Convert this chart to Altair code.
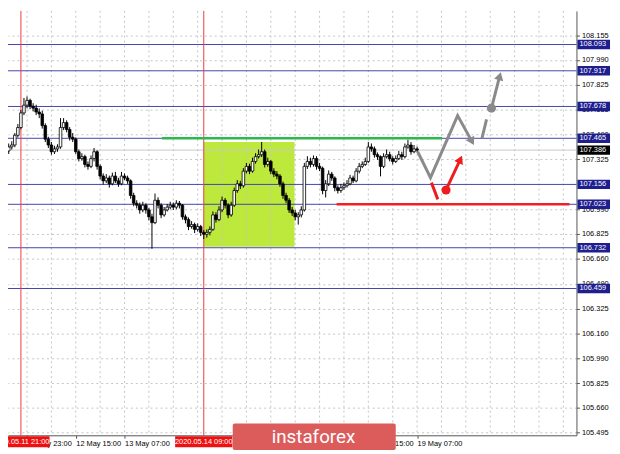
import json
import altair as alt
import pandas as pd

# ---------------- data ----------------
# hourly candles; bar index k (k=6 -> 11 May 23:00, k=134 -> 19 May 07:00)
first_open = 107.380
closes = [107.407, 107.420, 107.485, 107.537, 107.635, 107.687, 107.719, 107.680, 107.667, 107.641,
          107.628, 107.550, 107.459, 107.420, 107.375, 107.394, 107.407, 107.537, 107.570, 107.524,
          107.472, 107.459, 107.375, 107.329, 107.342, 107.290, 107.277, 107.329, 107.375, 107.277,
          107.212, 107.180, 107.199, 107.160, 107.212, 107.180, 107.160, 107.212, 107.199, 107.180,
          107.082, 107.030, 107.017, 106.985, 107.017, 106.985, 106.939, 106.900, 107.050, 107.017,
          106.952, 106.985, 107.004, 107.017, 107.004, 107.030, 107.017, 106.939, 106.920, 106.874,
          106.887, 106.855, 106.874, 106.835, 106.822, 106.835, 106.855, 106.952, 106.920, 106.985,
          107.050, 107.017, 106.952, 107.017, 107.115, 107.160, 107.147, 107.245, 107.277, 107.245,
          107.310, 107.342, 107.355, 107.375, 107.290, 107.310, 107.245, 107.225, 107.212, 107.160,
          107.082, 107.050, 106.985, 106.965, 106.939, 106.952, 106.985, 107.277, 107.310, 107.290,
          107.329, 107.277, 107.264, 107.115, 107.160, 107.225, 107.199, 107.134, 107.115, 107.134,
          107.147, 107.160, 107.199, 107.180, 107.245, 107.277, 107.290, 107.310, 107.407, 107.394,
          107.355, 107.342, 107.277, 107.342, 107.355, 107.329, 107.310, 107.329, 107.355, 107.342,
          107.407, 107.420, 107.375, 107.394, 107.386]
highs = [107.430, 107.445, 107.500, 107.560, 107.655, 107.735, 107.745, 107.730, 107.700, 107.690,
         107.665, 107.650, 107.565, 107.475, 107.440, 107.415, 107.425, 107.600, 107.600, 107.585,
         107.540, 107.500, 107.470, 107.390, 107.365, 107.355, 107.310, 107.350, 107.400, 107.385,
         107.290, 107.230, 107.225, 107.215, 107.235, 107.240, 107.200, 107.240, 107.230, 107.215,
         107.190, 107.100, 107.050, 107.035, 107.040, 107.030, 107.000, 106.960, 107.095, 107.070,
         107.030, 107.005, 107.025, 107.040, 107.035, 107.050, 107.045, 107.025, 106.955, 106.935,
         106.910, 106.900, 106.895, 106.885, 106.850, 106.855, 106.875, 106.975, 106.970, 107.010,
         107.075, 107.065, 107.030, 107.040, 107.135, 107.185, 107.180, 107.265, 107.300, 107.295,
         107.335, 107.365, 107.390, 107.440, 107.390, 107.335, 107.320, 107.265, 107.245, 107.225,
         107.175, 107.100, 107.065, 107.005, 106.985, 106.970, 107.010, 107.300, 107.345, 107.335,
         107.350, 107.345, 107.300, 107.275, 107.185, 107.250, 107.240, 107.210, 107.150, 107.160,
         107.170, 107.185, 107.220, 107.215, 107.265, 107.300, 107.310, 107.335, 107.440, 107.430,
         107.410, 107.370, 107.350, 107.365, 107.390, 107.375, 107.345, 107.350, 107.380, 107.375,
         107.430, 107.455, 107.440, 107.420, 107.410]
lows = [107.360, 107.390, 107.405, 107.470, 107.525, 107.620, 107.665, 107.660, 107.645, 107.620,
        107.600, 107.530, 107.440, 107.400, 107.355, 107.360, 107.375, 107.395, 107.520, 107.505,
        107.450, 107.440, 107.360, 107.310, 107.315, 107.270, 107.255, 107.265, 107.310, 107.255,
        107.190, 107.155, 107.165, 107.135, 107.150, 107.165, 107.140, 107.150, 107.185, 107.160,
        107.060, 107.010, 106.995, 106.960, 106.970, 106.960, 106.915, 106.725, 106.890, 106.995,
        106.930, 106.940, 106.975, 106.990, 106.985, 106.990, 106.995, 106.920, 106.895, 106.850,
        106.860, 106.830, 106.840, 106.810, 106.790, 106.800, 106.815, 106.845, 106.900, 106.910,
        106.970, 106.995, 106.930, 106.940, 107.005, 107.100, 107.125, 107.135, 107.230, 107.225,
        107.235, 107.295, 107.330, 107.340, 107.270, 107.275, 107.225, 107.205, 107.190, 107.140,
        107.060, 107.030, 106.965, 106.945, 106.915, 106.887, 106.935, 106.975, 107.260, 107.270,
        107.275, 107.255, 107.245, 107.090, 107.069, 107.145, 107.180, 107.110, 107.095, 107.100,
        107.120, 107.135, 107.150, 107.165, 107.170, 107.230, 107.265, 107.280, 107.300, 107.375,
        107.335, 107.320, 107.210, 107.265, 107.330, 107.310, 107.290, 107.300, 107.320, 107.320,
        107.330, 107.395, 107.355, 107.365, 107.370]

levels = [108.093, 107.917, 107.678, 107.465, 107.156, 107.023, 106.732, 106.459]
current_price = 107.386
y_ticks = [108.155, 107.990, 107.825, 107.655, 107.490, 107.325, 106.990, 106.825,
           106.660, 106.490, 106.325, 106.160, 105.990, 105.825, 105.660, 105.495]
x_label_pos = [6, 22, 38, 118, 134]
x_labels = ["11 May 23:00", "12 May 15:00", "13 May 07:00", "18 May 15:00", "19 May 07:00"]
x_grid = [6, 14, 22, 30, 38, 46, 54, 62, 70, 78, 86, 94, 102, 110, 118, 126, 134, 142, 150,
          158, 166, 174, 182]
marker_pos = [4, 64]
marker_labels = ["2020.05.11 21:00", "2020.05.14 09:00"]

zone_k = [64.0, 93.8]
zone_price = [107.440, 106.738]
green_k = [50.3, 142.2]
green_price = 107.465
red_k = [107.6, 184.0]
red_price = 107.023

grey_path_k = [134.2, 138.4, 147.3, 151.8]
grey_path_p = [107.375, 107.201, 107.617, 107.451]
grey_dash_k = [155.3, 156.8]
grey_dash_p = [107.466, 107.591]
grey_arrow_k = [158.4, 161.0]
grey_arrow_p = [107.667, 107.873]
red_dash_k = [138.7, 140.8]
red_dash_p = [107.168, 107.056]
red_arrow_k = [143.5, 148.0]
red_arrow_p = [107.119, 107.316]
grey_head_angles = [151, 15]
red_head_angles = [25]

logo_k = [73.5, 127.0]
logo_text_k = 100.0

assert len(closes) == len(highs) == len(lows) == 135

# ---------------- frames ----------------
W, H = 576, 430
FONT = "Liberation Sans"
GREY = "#8a8a8a"
RED = "#ee1c1c"

opens = [first_open] + closes[:-1]
candles = pd.DataFrame({
    "k": list(range(len(closes))),
    "open": opens, "close": closes, "high": highs, "low": lows,
})
candles["up"] = [c >= o for o, c in zip(opens, closes)]

xs = alt.Scale(domain=[-0.24, 186.3], nice=False, zero=False, padding=0)
ys = alt.Scale(domain=[105.476, 108.318], nice=False, zero=False, padding=0)

label_expr = "{}[indexof({}, datum.value)]".format(json.dumps(x_labels), json.dumps(x_label_pos))
x_axis = alt.Axis(values=x_label_pos, labelExpr=label_expr, labelAlign="left", labelPadding=1,
                  tickSize=3, grid=False, labelFont=FONT, labelFontSize=7.5, labelColor="black",
                  domainColor="#555555", tickColor="#555555", labelOverlap=False, labelFlush=False,
                  title=None)
y_axis = alt.Axis(values=y_ticks, format=".3f", orient="right", tickSize=3, labelPadding=2,
                  grid=True, gridDash=[2, 3], gridColor="#c4c4c4", labelFont=FONT,
                  labelFontSize=7.5, labelColor="black", domainColor="#555555",
                  tickColor="#555555", labelOverlap=False, labelFlush=False, title=None)


def X(f):
    return alt.X(f, type="quantitative", scale=xs, axis=x_axis)


def Y(f):
    return alt.Y(f, type="quantitative", scale=ys, axis=y_axis)


zone = alt.Chart(pd.DataFrame({"k1": [zone_k[0]], "k2": [zone_k[1]],
                               "p1": [zone_price[0]], "p2": [zone_price[1]]})).mark_rect(
    color="#bde83c").encode(x=X("k1"), x2="k2", y=Y("p1"), y2="p2")

vgrid = alt.Chart(pd.DataFrame({"k": x_grid})).mark_rule(
    color="#c4c4c4", strokeDash=[2, 3], strokeWidth=1).encode(x=X("k"))

cur_line = alt.Chart(pd.DataFrame({"p": [current_price]})).mark_rule(
    color="#c8c8c8", strokeWidth=1).encode(y=Y("p"))

level_lines = alt.Chart(pd.DataFrame({"p": levels})).mark_rule(
    color="#4444b0", strokeWidth=1).encode(y=Y("p"))

vlines = alt.Chart(pd.DataFrame({"k": marker_pos})).mark_rule(
    color="#ee3b3b", strokeWidth=1).encode(x=X("k"))

green_line = alt.Chart(pd.DataFrame({"k1": [green_k[0]], "k2": [green_k[1]], "p": [green_price]})).mark_rule(
    color="#2db84d", strokeWidth=2.5).encode(x=X("k1"), x2="k2", y=Y("p"))

red_line = alt.Chart(pd.DataFrame({"k1": [red_k[0]], "k2": [red_k[1]], "p": [red_price]})).mark_rule(
    color="#ee2222", strokeWidth=2.5).encode(x=X("k1"), x2="k2", y=Y("p"))

wicks = alt.Chart(candles).mark_rule(color="black", strokeWidth=1).encode(
    x=X("k"), y=Y("low"), y2="high")

bodies_up = alt.Chart(candles).transform_filter("datum.up").mark_bar(
    width=2.6, fill="white", stroke="black", strokeWidth=0.8).encode(x=X("k"), y=Y("open"), y2="close")
bodies_dn = alt.Chart(candles).transform_filter("!datum.up").mark_bar(
    width=2.6, fill="black", stroke="black", strokeWidth=0.8).encode(x=X("k"), y=Y("open"), y2="close")


def seg_df(ks, ps):
    return pd.DataFrame({"k": ks, "p": ps, "o": list(range(len(ks)))})


def seg_line(ks, ps, col):
    return alt.Chart(seg_df(ks, ps)).mark_line(color=col, strokeWidth=3, strokeCap="butt").encode(
        x=X("k"), y=Y("p"), order="o:Q")


g1 = seg_line(grey_path_k, grey_path_p, GREY)
g2 = seg_line(grey_dash_k, grey_dash_p, GREY)
g3 = seg_line(grey_arrow_k, grey_arrow_p, GREY)
r1 = seg_line(red_dash_k, red_dash_p, RED)
r2 = seg_line(red_arrow_k, red_arrow_p, RED)

grey_heads = alt.Chart(pd.DataFrame({"k": [grey_path_k[-1], grey_arrow_k[-1]],
                                     "p": [grey_path_p[-1], grey_arrow_p[-1]],
                                     "ang": grey_head_angles})).mark_point(
    shape="triangle", filled=True, size=90, opacity=1, color=GREY).encode(
    x=X("k"), y=Y("p"), angle=alt.Angle("ang:Q", scale=None))
red_heads = alt.Chart(pd.DataFrame({"k": [red_arrow_k[-1]], "p": [red_arrow_p[-1]],
                                    "ang": red_head_angles})).mark_point(
    shape="triangle", filled=True, size=90, opacity=1, color=RED).encode(
    x=X("k"), y=Y("p"), angle=alt.Angle("ang:Q", scale=None))

grey_dot = alt.Chart(pd.DataFrame({"k": [grey_arrow_k[0]], "p": [grey_arrow_p[0]]})).mark_point(
    shape="circle", filled=True, size=85, opacity=1, color=GREY).encode(x=X("k"), y=Y("p"))
red_dot = alt.Chart(pd.DataFrame({"k": [red_arrow_k[0]], "p": [red_arrow_p[0]]})).mark_point(
    shape="circle", filled=True, size=85, opacity=1, color=RED).encode(x=X("k"), y=Y("p"))

lvl_df = pd.DataFrame({"p": levels, "lbl": [f"{v:.3f}" for v in levels]})
cur_df = pd.DataFrame({"p": [current_price], "lbl": [f"{current_price:.3f}"]})


def tags(df, col):
    box = alt.Chart(df).mark_rect(height=9.5, color=col).encode(
        x=alt.value(W + 1), x2=alt.value(W + 34), y=Y("p"))
    txt = alt.Chart(df).mark_text(align="left", baseline="middle", font=FONT, fontSize=7.5,
                                  color="white").encode(x=alt.value(W + 3), y=Y("p"), text="lbl:N")
    return box, txt


lvl_box, lvl_txt = tags(lvl_df, "#1e1e8e")
cur_box, cur_txt = tags(cur_df, "#000000")

mk_df = pd.DataFrame({"k": marker_pos, "lbl": marker_labels})
mk_boxes = alt.Chart(mk_df).mark_rect(width=58, color="#ee1111").encode(
    x=X("k"), y=alt.value(H + 1), y2=alt.value(H + 12))
mk_text = alt.Chart(mk_df).mark_text(align="center", baseline="middle", font=FONT, fontSize=7.5,
                                      color="white").encode(
    x=X("k"), y=alt.value(H + 6.5), text="lbl:N")

logo_box = alt.Chart(pd.DataFrame({"k1": [logo_k[0]], "k2": [logo_k[1]]})).mark_rect(
    color="#dc5c5c", cornerRadius=2).encode(x=X("k1"), x2="k2", y=alt.value(H - 12), y2=alt.value(H + 15))
logo_text = alt.Chart(pd.DataFrame({"k": [logo_text_k], "t": ["instaforex"]})).mark_text(
    align="center", baseline="middle", font="Roboto", fontSize=19, color="white").encode(
    x=X("k"), y=alt.value(H + 2), text="t:N")

chart = alt.layer(
    zone, vgrid, cur_line, level_lines, vlines, green_line, red_line, wicks, bodies_up, bodies_dn,
    g1, g2, g3, r1, r2, grey_heads, red_heads, grey_dot, red_dot,
    lvl_box, lvl_txt, cur_box, cur_txt, mk_boxes, mk_text, logo_box, logo_text,
).properties(
    width=W, height=H, background="white",
    autosize=alt.AutoSizeParams(type="none"),
    padding={"left": 0, "top": 0, "right": 36, "bottom": 16},
).configure_view(stroke=None)

chart.save("out.html", embed_options={"renderer": "svg", "actions": False})
